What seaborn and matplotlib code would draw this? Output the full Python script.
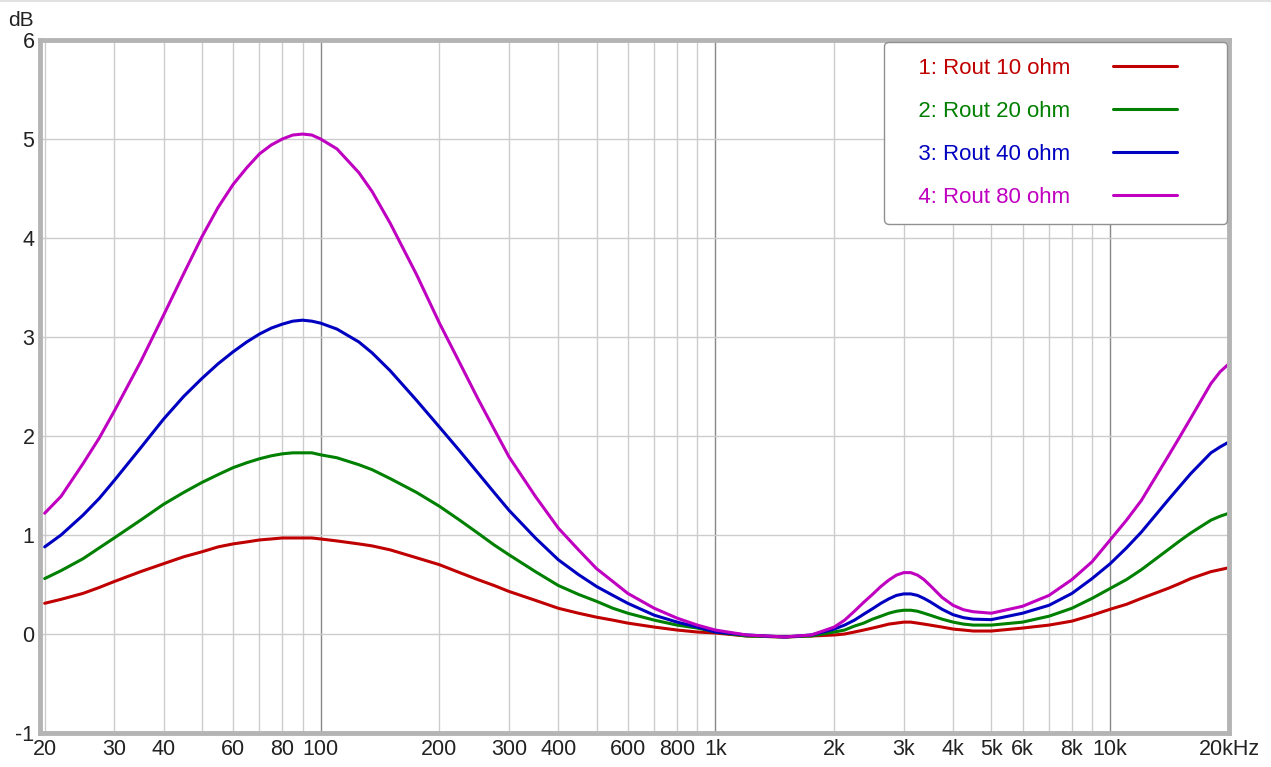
import numpy as np
import pandas as pd
import matplotlib
matplotlib.use('Agg')
import matplotlib.pyplot as plt
import seaborn as sns
from matplotlib.ticker import FixedLocator, NullFormatter
from matplotlib.legend_handler import HandlerLine2D
from matplotlib.lines import Line2D

# frequency points (Hz)
freq = [20, 22, 25, 27.5, 30, 35, 40, 45, 50, 55, 60, 65, 70, 75, 80, 85, 90, 95, 100,
        110, 125, 135, 150, 175, 200, 225, 250, 275, 300, 350, 400, 450, 500, 550, 600,
        700, 800, 900, 1000,
        1200, 1500, 1750, 2000, 2125, 2250, 2375, 2500, 2625, 2750, 2875, 3000, 3125,
        3250, 3375, 3500, 3750, 4000, 4250, 4500, 5000,
        6000, 7000, 8000, 9000, 10000, 11000, 12000, 14000, 15000, 16000, 18000, 19000, 20000]

# response in dB for each output resistance
rout10 = [0.31, 0.35, 0.41, 0.47, 0.53, 0.63, 0.71, 0.78, 0.83, 0.88, 0.91, 0.93, 0.95, 0.96,
          0.97, 0.97, 0.97, 0.97, 0.96,
          0.94, 0.91, 0.89, 0.85, 0.77, 0.70, 0.62, 0.55, 0.49, 0.43, 0.34, 0.26, 0.21, 0.17,
          0.14, 0.11, 0.07, 0.04, 0.02, 0.01,
          -0.02, -0.03, -0.02, -0.01, 0.00, 0.02, 0.04, 0.06, 0.08, 0.10, 0.11, 0.12, 0.12,
          0.11, 0.10, 0.09, 0.07, 0.05, 0.04, 0.03, 0.03,
          0.06, 0.09, 0.13, 0.19, 0.25, 0.30, 0.36, 0.46, 0.51, 0.56, 0.63, 0.65, 0.67]
rout20 = [0.56, 0.64, 0.76, 0.87, 0.97, 1.15, 1.31, 1.43, 1.53, 1.61, 1.68, 1.73, 1.77, 1.80,
          1.82, 1.83, 1.83, 1.83, 1.81,
          1.78, 1.71, 1.66, 1.57, 1.43, 1.29, 1.15, 1.02, 0.90, 0.80, 0.63, 0.49, 0.40, 0.33,
          0.26, 0.21, 0.14, 0.09, 0.06, 0.02,
          -0.02, -0.03, -0.02, 0.02, 0.04, 0.08, 0.11, 0.15, 0.18, 0.21, 0.23, 0.24, 0.24,
          0.23, 0.21, 0.19, 0.15, 0.12, 0.10, 0.09, 0.09,
          0.12, 0.18, 0.26, 0.36, 0.46, 0.55, 0.65, 0.85, 0.94, 1.02, 1.15, 1.19, 1.22]
rout40 = [0.88, 1.00, 1.20, 1.37, 1.55, 1.88, 2.17, 2.40, 2.58, 2.73, 2.85, 2.95, 3.03, 3.09,
          3.13, 3.16, 3.17, 3.16, 3.14,
          3.08, 2.95, 2.84, 2.66, 2.36, 2.09, 1.85, 1.63, 1.43, 1.25, 0.97, 0.75, 0.60, 0.48,
          0.39, 0.31, 0.19, 0.12, 0.07, 0.02,
          -0.01, -0.03, -0.01, 0.05, 0.09, 0.14, 0.20, 0.255, 0.31, 0.355, 0.39, 0.405, 0.405,
          0.39, 0.36, 0.325, 0.25, 0.195, 0.165, 0.15, 0.145,
          0.21, 0.29, 0.41, 0.56, 0.71, 0.87, 1.03, 1.35, 1.49, 1.62, 1.83, 1.89, 1.94]
rout80 = [1.22, 1.39, 1.72, 1.98, 2.25, 2.75, 3.22, 3.64, 4.01, 4.31, 4.54, 4.71, 4.85, 4.94,
          5.00, 5.04, 5.05, 5.04, 5.00,
          4.90, 4.66, 4.47, 4.15, 3.63, 3.14, 2.74, 2.38, 2.07, 1.79, 1.39, 1.07, 0.85, 0.66,
          0.53, 0.41, 0.26, 0.16, 0.09, 0.04,
          -0.01, -0.03, -0.01, 0.07, 0.14, 0.23, 0.32, 0.40, 0.48, 0.545, 0.595, 0.62, 0.62,
          0.595, 0.55, 0.49, 0.37, 0.29, 0.245, 0.225, 0.21,
          0.28, 0.39, 0.55, 0.73, 0.95, 1.15, 1.35, 1.79, 1.99, 2.18, 2.53, 2.65, 2.73]

labels = ['1: Rout 10 ohm', '2: Rout 20 ohm', '3: Rout 40 ohm', '4: Rout 80 ohm']
colors = ['#c00000', '#008000', '#0000c0', '#c000c0']

x_ticks = [20, 30, 40, 60, 80, 100, 200, 300, 400, 600, 800,
           1000, 2000, 3000, 4000, 5000, 6000, 8000, 10000, 20000]
x_ticklabels = ['20', '30', '40', '60', '80', '100', '200', '300', '400', '600', '800',
                '1k', '2k', '3k', '4k', '5k', '6k', '8k', '10k', '20kHz']
y_ticks = [-1, 0, 1, 2, 3, 4, 5, 6]

# long-form table for seaborn
df = pd.concat([pd.DataFrame({'freq': freq, 'dB': vals, 'trace': lab})
                for vals, lab in zip([rout10, rout20, rout40, rout80], labels)])


class ShortLine(HandlerLine2D):
    # line sample only fills the left part of the handle box
    def create_artists(self, legend, orig_handle, xdescent, ydescent, width, height,
                       fontsize, trans):
        return super().create_artists(legend, orig_handle, xdescent, ydescent,
                                      width * 0.65, height, fontsize, trans)


sns.set_style('white')
plt.rcParams['font.family'] = ['Liberation Sans', 'DejaVu Sans']

fig = plt.figure(figsize=(12.71, 7.67), dpi=100)
ax = fig.add_axes([40/1271, 1 - 733/767, (1229 - 40)/1271, (733 - 40)/767])

sns.lineplot(data=df, x='freq', y='dB', hue='trace', palette=colors,
             linewidth=2.2, ax=ax, legend=True)

ax.set_xscale('log')
ax.set_xlim(19.46, 20000)
ax.set_ylim(-1, 6)

# grid lines: light for every step, darker at the decades
minor_grid = [m * 10**e for e in range(1, 5) for m in range(1, 10)]
minor_grid = [g for g in minor_grid if 20 <= g < 20000 and g not in (100, 1000, 10000)]
for g in minor_grid:
    ax.axvline(g, color='#cccccc', lw=1.0, zorder=0)
for g in (100, 1000, 10000):
    ax.axvline(g, color='#888888', lw=1.0, zorder=0)
for y in y_ticks[1:-1]:
    ax.axhline(y, color='#cccccc', lw=1.0, zorder=0)

ax.xaxis.set_major_locator(FixedLocator(x_ticks))
ax.xaxis.set_minor_locator(FixedLocator([]))
ax.xaxis.set_minor_formatter(NullFormatter())
ax.set_xticklabels(x_ticklabels)
ax.set_yticks(y_ticks)
ax.set_yticklabels([str(v) for v in y_ticks])
ax.tick_params(axis='both', length=0, labelsize=15.5, colors='#222222')
ax.tick_params(axis='x', pad=4)
ax.tick_params(axis='y', pad=4)
ax.set_xlabel('')
ax.set_ylabel('')

for s in ax.spines.values():
    s.set_color('#b4b4b4')
    s.set_linewidth(3.5)

fig.text(8/1271, 1 - 21/767, 'dB', fontsize=15, color='#222222', ha='left', va='center')
fig.add_artist(Line2D([0, 1], [1 - 1/767, 1 - 1/767], color='#e2e2e2', lw=1.5))

handles, labs = ax.get_legend_handles_labels()
labs = ['   ' + l for l in labs]
leg = ax.legend(handles, labs, loc='upper right', bbox_to_anchor=(0.9983, 0.9971),
                markerfirst=False, labelcolor='linecolor', fontsize=16,
                handlelength=4.45, handletextpad=1.9, labelspacing=1.0,
                borderpad=0.7, borderaxespad=0, fancybox=True, framealpha=1,
                edgecolor='#909090', handler_map={Line2D: ShortLine()})
leg.get_frame().set_linewidth(1.0)

fig.savefig('out.png', dpi=100)
